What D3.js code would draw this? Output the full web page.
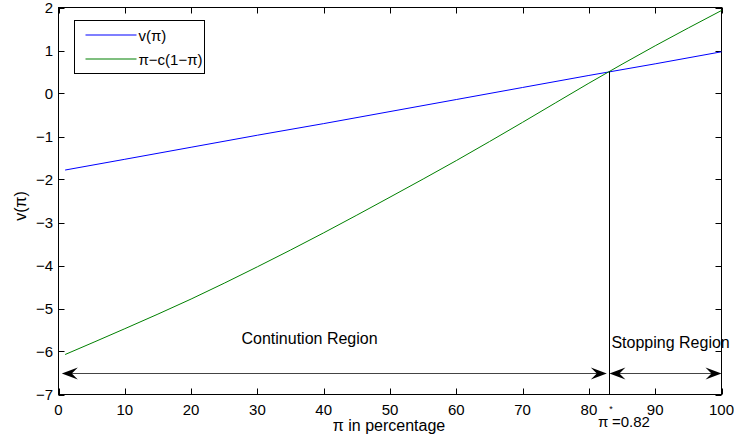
<!DOCTYPE html>
<html>
<head>
<meta charset="utf-8">
<script src="https://cdn.jsdelivr.net/npm/d3@7"></script>
<style>
  html, body { margin: 0; padding: 0; background: #fff; }
  svg { display: block; }
  text { font-family: "Liberation Sans", Arial, Helvetica, sans-serif; fill: #000; }
</style>
</head>
<body>
<svg id="chart" width="734" height="442"></svg>
<script>
// ---- data ----
const piPct      = [1, 10, 20, 30, 40, 50, 60, 70, 80, 90, 100];
const vPi        = [-1.78, -1.53, -1.25, -0.97, -0.70, -0.42, -0.14, 0.14, 0.42, 0.69, 0.97];
const stopPayoff = [-6.07, -5.47, -4.78, -4.03, -3.24, -2.41, -1.56, -0.67, 0.24, 1.11, 1.93];
const xTicks = [0, 10, 20, 30, 40, 50, 60, 70, 80, 90, 100];
const yTicks = [-7, -6, -5, -4, -3, -2, -1, 0, 1, 2];
const seriesNames = ["v(\u03c0)", "\u03c0\u2212c(1\u2212\u03c0)"];
const seriesColors = ["#0000ff", "#008000"];
const piStar = 83.1;          // threshold position on x axis
const piStarValue = 0.51;     // value at intersection
const piStarLabel = "0.82";
const arrowY = -6.5;
const arrowSegments = [[0.5, 82.7], [83.1, 100]];
const regionLabels = [
  { text: "Continution Region", x: 27.6 },
  { text: "Stopping Region", x: 83.4 }
];

// ---- layout ----
const svg = d3.select("#chart");
const L = 58.5, R = 721.5, T = 7.5, B = 394.5;
const x = d3.scaleLinear().domain([0, 100]).range([L, R]);
const y = d3.scaleLinear().domain([-7, 2]).range([B, T]);
const tickLen = 6;

// frame
svg.append("rect").attr("x", L).attr("y", T).attr("width", R - L).attr("height", B - T)
  .attr("fill", "none").attr("stroke", "#000").attr("stroke-width", 1);

// x ticks (bottom and top, inward)
const xt = svg.append("g");
xTicks.forEach(t => {
  const px = Math.round(x(t)) + 0.5;
  xt.append("line").attr("x1", px).attr("x2", px).attr("y1", B).attr("y2", B - tickLen).attr("stroke", "#000");
  xt.append("line").attr("x1", px).attr("x2", px).attr("y1", T).attr("y2", T + tickLen).attr("stroke", "#000");
  xt.append("text").attr("x", x(t)).attr("y", 414.5).attr("text-anchor", "middle")
    .attr("font-size", 15).text(t);
});
// y ticks (left and right, inward)
const yt = svg.append("g");
yTicks.forEach(t => {
  const py = Math.round(y(t)) + 0.5;
  yt.append("line").attr("x1", L).attr("x2", L + tickLen).attr("y1", py).attr("y2", py).attr("stroke", "#000");
  yt.append("line").attr("x1", R).attr("x2", R - tickLen).attr("y1", py).attr("y2", py).attr("stroke", "#000");
  yt.append("text").attr("x", 53).attr("y", y(t) + 5.5).attr("text-anchor", "end")
    .attr("font-size", 15).text(t < 0 ? "\u2212" + Math.abs(t) : t);
});

// axis labels
svg.append("text").attr("x", x(50) - 1).attr("y", 431).attr("text-anchor", "middle")
  .attr("font-size", 16).text("\u03c0 in percentage");
svg.append("text").attr("transform", "translate(26,206) rotate(-90)").attr("text-anchor", "middle")
  .attr("font-size", 16).text("v(\u03c0)");

// data lines
const line = d3.line().x(d => x(d[0])).y(d => y(d[1])).curve(d3.curveMonotoneX);
[vPi, stopPayoff].forEach((vals, i) => {
  svg.append("path").datum(piPct.map((p, j) => [p, vals[j]]))
    .attr("d", line).attr("fill", "none").attr("stroke", seriesColors[i]).attr("stroke-width", 1);
});

// vertical threshold line
svg.append("line").attr("x1", Math.round(x(piStar)) + 0.5).attr("x2", Math.round(x(piStar)) + 0.5)
  .attr("y1", y(piStarValue)).attr("y2", B).attr("stroke", "#000").attr("stroke-width", 1);

// double arrows
function head(tx, ty, dir) {
  const Lh = 16, W = 6, N = 10;
  return `M${tx},${ty}L${tx - dir * Lh},${ty - W}L${tx - dir * N},${ty}L${tx - dir * Lh},${ty + W}Z`;
}
const ay = Math.round(y(arrowY)) + 0.5;
arrowSegments.forEach(seg => {
  const x1 = x(seg[0]), x2 = x(seg[1]);
  svg.append("line").attr("x1", x1 + 8).attr("x2", x2 - 8).attr("y1", ay).attr("y2", ay)
    .attr("stroke", "#444").attr("stroke-width", 1.2);
  svg.append("path").attr("d", head(x1, ay, -1)).attr("fill", "#000");
  svg.append("path").attr("d", head(x2, ay, 1)).attr("fill", "#000");
});

// region labels
regionLabels.forEach((r, i) => {
  svg.append("text").attr("x", x(r.x)).attr("y", i === 0 ? 344 : 348)
    .attr("font-size", 16).text(r.text);
});

// pi* label
const ps = svg.append("text").attr("x", 598).attr("y", 427).attr("font-size", 15);
ps.append("tspan").text("\u03c0");
ps.append("tspan").attr("dy", -15).attr("dx", 1).attr("font-size", 9).text("*");
ps.append("tspan").attr("dy", 15).attr("dx", -1).text("=" + piStarLabel);

// legend
const lg = svg.append("g");
lg.append("rect").attr("x", 74.5).attr("y", 20.5).attr("width", 130).attr("height", 53)
  .attr("fill", "#fff").attr("stroke", "#000").attr("stroke-width", 1);
seriesNames.forEach((n, i) => {
  const ly = 35 + i * 24;
  lg.append("line").attr("x1", 85.5).attr("x2", 136.5).attr("y1", ly).attr("y2", ly)
    .attr("stroke", seriesColors[i]).attr("stroke-width", 1.2);
  lg.append("text").attr("x", 138.5).attr("y", ly + 5.5).attr("font-size", 15).text(n);
});
</script>
</body>
</html>
